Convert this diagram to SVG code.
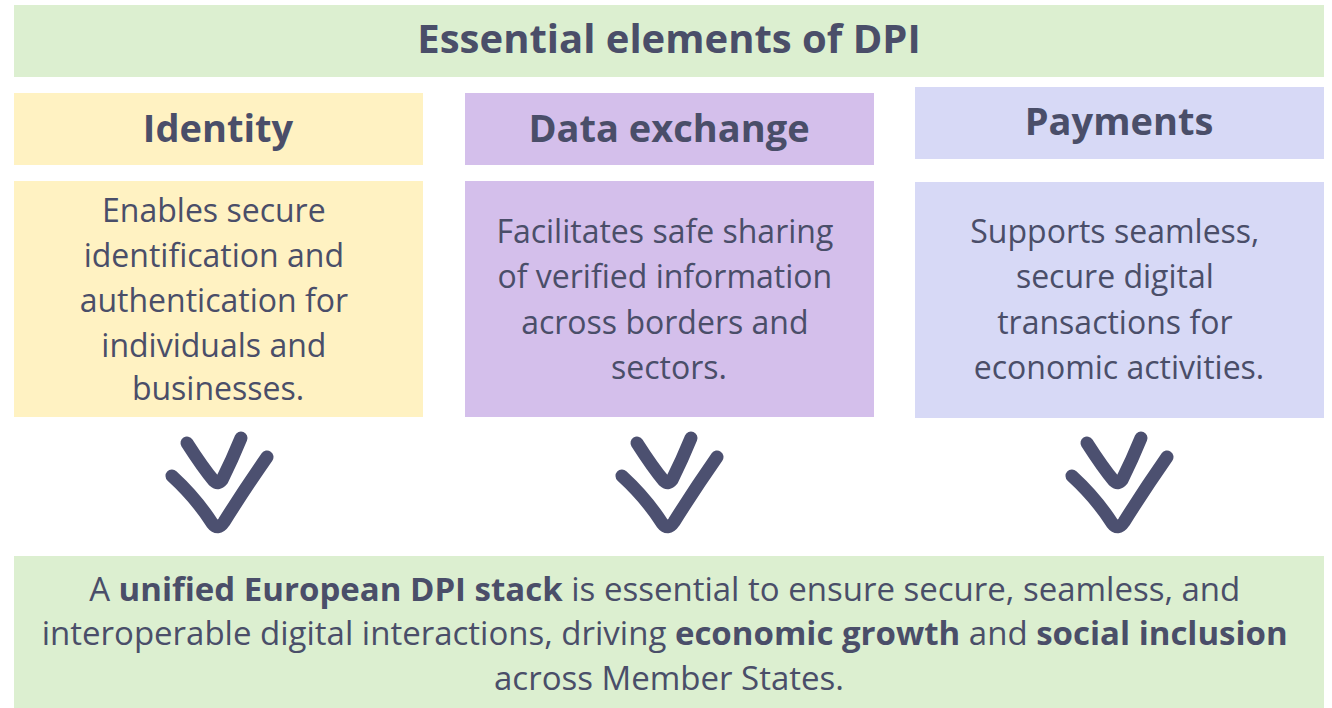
<svg xmlns="http://www.w3.org/2000/svg" width="1332" height="708" viewBox="0 0 1332 708">
  <style>
    .t { font-family: "Open Sans", Lato, "Liberation Sans", sans-serif; fill: #4a4e69; text-anchor: middle; }
    .title { font-size: 40px; font-weight: 700; }
    .head { font-size: 38px; font-weight: 700; }
    .body { font-size: 32px; }
    .foot { font-size: 33px; }
    .b { font-weight: 700; }
    .chev { fill: none; stroke: #4c5070; stroke-width: 13; stroke-linecap: round; stroke-linejoin: round; }
  </style>
  <rect width="1332" height="708" fill="#ffffff"/>

  <g id="title">
    <rect x="14" y="5" width="1310" height="72" fill="#dcefd0"/>
    <text class="t title" x="669" y="53">Essential elements of DPI</text>
  </g>

  <g id="identity">
    <rect x="14" y="93" width="409" height="72" fill="#fff2c2"/>
    <text class="t head" x="218" y="142">Identity</text>
    <rect x="14" y="181" width="409" height="236" fill="#fff2c2"/>
    <text class="t body">
      <tspan x="218" y="222">Enables secure</tspan>
      <tspan x="218" y="267">identification and</tspan>
      <tspan x="218" y="312">authentication for</tspan>
      <tspan x="218" y="357">individuals and</tspan>
      <tspan x="218" y="400">businesses.</tspan>
    </text>
  </g>

  <g id="data-exchange">
    <rect x="465" y="93" width="409" height="72" fill="#d4bfeb"/>
    <text class="t head" x="669" y="142">Data exchange</text>
    <rect x="465" y="181" width="409" height="236" fill="#d4bfeb"/>
    <text class="t body">
      <tspan x="669" y="243">Facilitates safe sharing</tspan>
      <tspan x="669" y="288">of verified information</tspan>
      <tspan x="669" y="334">across borders and</tspan>
      <tspan x="669" y="379">sectors.</tspan>
    </text>
  </g>

  <g id="payments">
    <rect x="915" y="87" width="409" height="72" fill="#d7d9f6"/>
    <text class="t head" x="1119" y="135">Payments</text>
    <rect x="915" y="182" width="409" height="236" fill="#d7d9f6"/>
    <text class="t body">
      <tspan x="1119" y="243">Supports seamless,</tspan>
      <tspan x="1119" y="288">secure digital</tspan>
      <tspan x="1119" y="334">transactions for</tspan>
      <tspan x="1119" y="379">economic activities.</tspan>
    </text>
  </g>

  <g id="connectors">
    <g transform="translate(0,0)">
      <path class="chev" d="M187,443 Q203,468 214,481 Q218,485 222,480 Q232,460 241,438"/>
      <path class="chev" d="M172,476 Q196,498 212,523 Q218,531 224,522 Q244,490 267,457"/>
    </g>
    <g transform="translate(450,0)">
      <path class="chev" d="M187,443 Q203,468 214,481 Q218,485 222,480 Q232,460 241,438"/>
      <path class="chev" d="M172,476 Q196,498 212,523 Q218,531 224,522 Q244,490 267,457"/>
    </g>
    <g transform="translate(900,0)">
      <path class="chev" d="M187,443 Q203,468 214,481 Q218,485 222,480 Q232,460 241,438"/>
      <path class="chev" d="M172,476 Q196,498 212,523 Q218,531 224,522 Q244,490 267,457"/>
    </g>
  </g>

  <g id="summary">
    <rect x="14" y="556" width="1310" height="152" fill="#dcefd0"/>
    <text class="t foot">
      <tspan x="669" y="601">A <tspan class="b">unified European DPI stack</tspan> is essential to ensure secure, seamless, and</tspan>
      <tspan x="669" y="645">interoperable digital interactions, driving <tspan class="b">economic growth</tspan> and <tspan class="b">social inclusion</tspan></tspan>
      <tspan x="669" y="690">across Member States.</tspan>
    </text>
  </g>
</svg>
